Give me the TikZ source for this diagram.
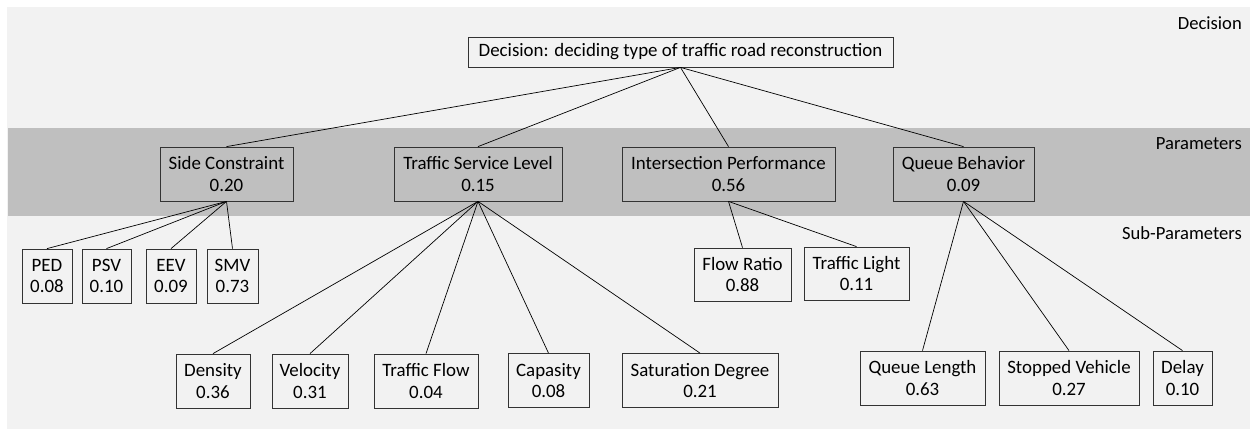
\documentclass[tikz,border=0pt]{standalone}
\usepackage{fontspec}
\setmainfont{Carlito}
\definecolor{bglight}{HTML}{F2F2F2}
\definecolor{band}{HTML}{BFBFBF}
\begin{document}
\begin{tikzpicture}[x=1pt,y=-1pt,
  every node/.style={font=\fontsize{18.9}{21.5}\selectfont},
  box/.style={draw=black!80, line width=0.8pt, inner sep=0pt, align=center, fill=bglight},
  pbox/.style={box, fill=band},
  lvl/.style={anchor=east, inner sep=0pt, font=\fontsize{18.6}{21}\selectfont},
  link/.style={draw=black, line width=0.7pt}]
\useasboundingbox (0,0) rectangle (1250,429);
\fill[bglight] (7,7) rectangle (1250,429);
\fill[band] (8,128) rectangle (1250,216);

\node[lvl] (ldec) at (1242,23) {Decision};
\node[lvl] (lpar) at (1242,144) {Parameters};
\node[lvl] (lsub) at (1242,233) {Sub-Parameters};

\node[box, minimum width=425, minimum height=30] (dec) at (680.5,52) {Decision: deciding type of traffic road reconstruction};

\node[pbox, minimum width=133, minimum height=54] (sc) at (226.5,174) {Side Constraint\\0.20};
\node[pbox, minimum width=168, minimum height=54] (tsl) at (478,174) {Traffic Service Level\\0.15};
\node[pbox, minimum width=213, minimum height=54] (ip) at (728.5,174) {Intersection Performance\\0.56};
\node[pbox, minimum width=141, minimum height=54] (qb) at (963.5,174) {Queue Behavior\\0.09};

\node[box, minimum width=50, minimum height=54] (ped) at (47,276) {PED\\0.08};
\node[box, minimum width=49, minimum height=54] (psv) at (106.5,276) {PSV\\0.10};
\node[box, minimum width=50, minimum height=54] (eev) at (171,276) {EEV\\0.09};
\node[box, minimum width=51, minimum height=54] (smv) at (232.5,276) {SMV\\0.73};

\node[box, minimum width=74, minimum height=54] (den) at (213,381) {Density\\0.36};
\node[box, minimum width=76, minimum height=54] (vel) at (310,381) {Velocity\\0.31};
\node[box, minimum width=104, minimum height=54] (tf) at (426,381) {Traffic Flow\\0.04};
\node[box, minimum width=81, minimum height=54] (cap) at (548.5,380.5) {Capasity\\0.08};
\node[box, minimum width=156, minimum height=54] (sd) at (700,380.5) {Saturation Degree\\0.21};

\node[box, minimum width=97, minimum height=53] (fr) at (742.5,274.5) {Flow Ratio\\0.88};
\node[box, minimum width=105, minimum height=53] (tl) at (856.5,273.5) {Traffic Light\\0.11};

\node[box, minimum width=125, minimum height=54] (ql) at (922.5,378) {Queue Length\\0.63};
\node[box, minimum width=140, minimum height=54] (sv) at (1069,378) {Stopped Vehicle\\0.27};
\node[box, minimum width=59, minimum height=54] (dl) at (1182.5,378) {Delay\\0.10};

\foreach \c in {sc,tsl,ip,qb} \draw[link] (dec.south) -- (\c.north);
\foreach \c in {ped,psv,eev,smv} \draw[link] (sc.south) -- (\c.north);
\foreach \c in {den,vel,tf,cap,sd} \draw[link] (tsl.south) -- (\c.north);
\foreach \c in {fr,tl} \draw[link] (ip.south) -- (\c.north);
\foreach \c in {ql,sv,dl} \draw[link] (qb.south) -- (\c.north);
\end{tikzpicture}
\end{document}
